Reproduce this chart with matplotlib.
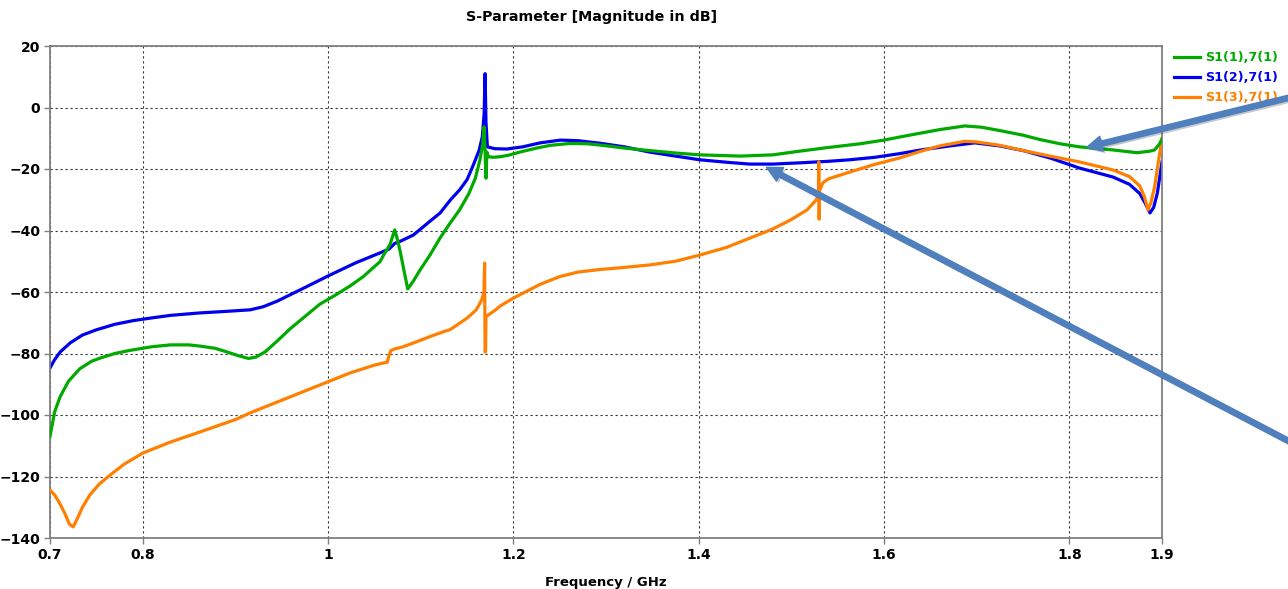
import matplotlib
matplotlib.use("Agg")
import matplotlib.pyplot as plt
from matplotlib.patches import FancyArrowPatch, ArrowStyle
import matplotlib.patheffects as pe

# ---------------- data ----------------
freq_s11 = [0.700,0.705,0.711,0.720,0.732,0.745,0.754,0.770,0.786,0.810,0.830,0.850,0.862,0.878,0.889,
            0.902,0.914,0.922,0.932,0.945,0.959,0.975,0.991,1.008,1.024,1.038,1.051,1.056,1.060,1.067,
            1.072,1.075,1.078,1.082,1.086,1.092,1.099,1.110,1.121,1.132,1.142,1.152,1.159,1.164,1.167,
            1.1683,1.1695,1.1705,1.1715,1.173,1.178,1.186,1.195,1.207,1.225,1.240,1.261,1.280,1.293,
            1.320,1.347,1.375,1.401,1.445,1.480,1.509,1.540,1.574,1.600,1.617,1.640,1.660,1.687,1.705,
            1.725,1.750,1.768,1.790,1.811,1.847,1.873,1.887,1.892,1.897,1.900]
s11_db = [-107,-99,-94,-89,-85,-82.5,-81.5,-80,-79,-77.8,-77.2,-77.2,-77.6,-78.3,-79.3,
          -80.6,-81.6,-81.2,-79.5,-76,-72,-68,-64,-61,-58,-55,-51.5,-50.2,-48,-44.5,
          -39.8,-43,-47,-53,-59,-56.5,-53,-48,-42.4,-37.5,-33.3,-28,-23,-17,-12,
          -6.3,-14,-23,-14.5,-16,-16.2,-16,-15.5,-14.5,-13.2,-12.3,-11.7,-11.8,-12.2,
          -13.2,-14,-14.8,-15.4,-15.8,-15.4,-14.2,-13,-11.8,-10.6,-9.6,-8.3,-7.2,-6,-6.4,
          -7.5,-9,-10.4,-11.8,-12.8,-13.8,-14.7,-14.2,-13.8,-12,-10.3]

freq_s21 = [0.700,0.705,0.711,0.722,0.735,0.750,0.770,0.790,0.808,0.830,0.862,0.890,0.916,0.930,0.945,
            0.970,1.002,1.030,1.056,1.066,1.072,1.078,1.092,1.110,1.121,1.132,1.142,1.150,1.156,1.163,1.1665,
            1.1685,1.1695,1.1705,1.172,1.180,1.193,1.210,1.229,1.251,1.270,1.293,1.320,1.347,1.375,1.401,
            1.430,1.455,1.480,1.509,1.540,1.563,1.590,1.617,1.640,1.671,1.698,1.725,1.750,1.779,1.811,
            1.847,1.865,1.876,1.882,1.887,1.891,1.895,1.900]
s21_db = [-84.7,-82,-79.5,-76.5,-74,-72.3,-70.5,-69.3,-68.5,-67.6,-66.8,-66.3,-65.8,-64.8,-63,
          -59.3,-54.5,-50.5,-47.3,-46,-44.2,-43.5,-41.5,-37,-34.3,-30.1,-26.8,-23.5,-19.3,-14,-9.6,
          -2,11,-5,-12.8,-13.4,-13.5,-12.8,-11.5,-10.6,-10.8,-11.6,-12.8,-14.5,-15.8,-17,
          -17.8,-18.4,-18.4,-18,-17.5,-17,-16.2,-15,-13.8,-12.5,-11.5,-12.5,-14,-16.4,-19.7,
          -22.6,-25,-28,-31.2,-34.3,-32.5,-27.8,-17.7]

freq_s31 = [0.700,0.705,0.710,0.716,0.721,0.725,0.729,0.735,0.743,0.753,0.765,0.780,0.800,0.830,0.862,
            0.900,0.916,0.970,1.024,1.050,1.061,1.064,1.066,1.068,1.072,1.080,1.092,1.110,1.121,1.132,
            1.150,1.160,1.166,1.1683,1.169,1.1695,1.1700,1.1705,1.180,1.186,1.200,1.229,1.250,1.270,1.293,
            1.320,1.347,1.375,1.401,1.430,1.455,1.480,1.499,1.517,1.527,1.5293,1.5296,1.5300,1.5305,1.534,
            1.540,1.563,1.590,1.617,1.640,1.660,1.687,1.700,1.725,1.750,1.779,1.811,1.847,1.865,1.876,
            1.881,1.885,1.888,1.892,1.900]
s31_db = [-124.4,-126,-128.5,-132,-135.5,-136.4,-134,-130,-126,-122.5,-119.5,-116,-112.4,-108.8,-105.5,
          -101.5,-99.3,-92.8,-86.3,-83.8,-83,-82.8,-80.5,-79,-78.5,-77.9,-76.6,-74.5,-73.3,-72.2,
          -68.5,-65.8,-62.5,-60,-50.6,-79.5,-79.5,-68,-66,-64.5,-62,-57.5,-55,-53.5,-52.7,
          -52,-51.2,-50,-48,-45.5,-42.5,-39.5,-36.6,-33.3,-30,-28,-17.7,-36.3,-27,-24.5,
          -23.2,-21,-18.5,-16.4,-14.2,-12.5,-11,-11.2,-12.3,-14,-15.8,-17.7,-20.3,-22.5,-25.5,
          -29,-33.3,-31,-25.8,-10]

labels = ["S1(1),7(1)", "S1(2),7(1)", "S1(3),7(1)"]
colors = ["#00aa00", "#0000ee", "#ff8000"]

x_ticks = [0.7, 0.8, 1.0, 1.2, 1.4, 1.6, 1.8, 1.9]
x_tick_labels = ["0.7", "0.8", "1", "1.2", "1.4", "1.6", "1.8", "1.9"]
y_ticks = [-140, -120, -100, -80, -60, -40, -20, 0, 20]

title = "S-Parameter [Magnitude in dB]"
xlabel = "Frequency / GHz"

# ---------------- figure ----------------
W, H = 1288, 589
fig = plt.figure(figsize=(W / 100, H / 100), dpi=100)
fig.patch.set_facecolor("white")
L, R, T, B = 50, 1162, 46, 538
ax = fig.add_axes([L / W, 1 - B / H, (R - L) / W, (B - T) / H])

series = [(freq_s11, s11_db), (freq_s21, s21_db), (freq_s31, s31_db)]
handles = []
for (f, v), lab, c in zip(series, labels, colors):
    h, = ax.plot(f, v, color=c, lw=2.3, label=lab, solid_joinstyle="round")
    handles.append(h)
handles[2].set_zorder(3)
handles[0].set_zorder(4)
handles[1].set_zorder(2)

ax.set_xlim(0.7, 1.9)
ax.set_ylim(-140, 20)
ax.set_xticks(x_ticks)
ax.set_xticklabels(x_tick_labels)
ax.set_yticks(y_ticks)
ax.grid(True, color="#333333", linestyle=(0, (2, 2.5)), linewidth=0.8)
for s in ax.spines.values():
    s.set_color("#808080")
    s.set_linewidth(1.3)
ax.tick_params(axis="both", length=4, width=1, color="#808080", labelsize=10, pad=3)
for lbl in ax.get_xticklabels() + ax.get_yticklabels():
    lbl.set_fontweight("bold")

ax.set_xlabel(xlabel, fontsize=9.5, fontweight="bold", labelpad=10)
fig.text(592 / W, 1 - 17 / H, title, ha="center", va="center",
         fontsize=10.3, fontweight="bold")

leg = fig.legend(handles=handles, labels=labels, loc="upper left",
                 bbox_to_anchor=(1174 / W, 1 - 51 / H), frameon=False,
                 handlelength=2.0, handletextpad=0.45, labelspacing=0.55,
                 prop={"weight": "bold", "size": 9.2}, labelcolor="linecolor",
                 borderaxespad=0, borderpad=0)

# ---------------- annotation arrows ----------------
arrow_color = "#4f7fbd"
def px(x, y):
    return (x / W, 1 - y / H)

for tail, tip in [((1300, 95), (1084, 148)), ((1300, 447), (764, 166))]:
    arr = FancyArrowPatch(px(*tail), px(*tip), transform=fig.transFigure,
                          arrowstyle=ArrowStyle.Simple(head_length=11, head_width=11, tail_width=3.8),
                          color=arrow_color, mutation_scale=1, zorder=10,
                          path_effects=[pe.SimplePatchShadow(offset=(1.5, -1.5), alpha=0.25),
                                        pe.Normal()])
    fig.add_artist(arr)

fig.savefig("out.png", dpi=100)
